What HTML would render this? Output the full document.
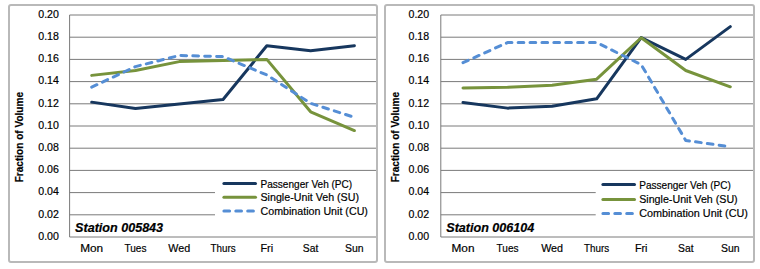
<!DOCTYPE html>
<html><head><meta charset="utf-8"><style>
html,body{margin:0;padding:0;background:#fff;width:760px;height:269px;overflow:hidden}
svg{display:block}
text{font-family:"Liberation Sans",sans-serif;fill:#000000;stroke:#000000;stroke-width:0.18px}
text[font-weight=bold]{stroke-width:0.2px}
</style></head><body>
<svg width="760" height="269" viewBox="0 0 760 269">
<rect width="760" height="269" fill="#fff"/>
<line x1="69.60" y1="237.00" x2="376.10" y2="237.00" stroke="#7A7A7A" stroke-width="1"/>
<line x1="69.60" y1="214.80" x2="376.10" y2="214.80" stroke="#7A7A7A" stroke-width="1"/>
<line x1="69.60" y1="192.60" x2="376.10" y2="192.60" stroke="#7A7A7A" stroke-width="1"/>
<line x1="69.60" y1="170.40" x2="376.10" y2="170.40" stroke="#7A7A7A" stroke-width="1"/>
<line x1="69.60" y1="148.20" x2="376.10" y2="148.20" stroke="#7A7A7A" stroke-width="1"/>
<line x1="69.60" y1="126.00" x2="376.10" y2="126.00" stroke="#7A7A7A" stroke-width="1"/>
<line x1="69.60" y1="103.80" x2="376.10" y2="103.80" stroke="#7A7A7A" stroke-width="1"/>
<line x1="69.60" y1="81.60" x2="376.10" y2="81.60" stroke="#7A7A7A" stroke-width="1"/>
<line x1="69.60" y1="59.40" x2="376.10" y2="59.40" stroke="#7A7A7A" stroke-width="1"/>
<line x1="69.60" y1="37.20" x2="376.10" y2="37.20" stroke="#7A7A7A" stroke-width="1"/>
<line x1="69.60" y1="15.00" x2="376.10" y2="15.00" stroke="#7A7A7A" stroke-width="1"/>
<line x1="69.60" y1="15.00" x2="69.60" y2="237.00" stroke="#7A7A7A" stroke-width="1"/>
<rect x="215" y="174" width="161.60000000000002" height="48" fill="#fff"/>
<text x="58.90" y="239.70" text-anchor="end" font-size="10" textLength="20.6" lengthAdjust="spacingAndGlyphs">0.00</text>
<text x="58.90" y="217.50" text-anchor="end" font-size="10" textLength="20.6" lengthAdjust="spacingAndGlyphs">0.02</text>
<text x="58.90" y="195.30" text-anchor="end" font-size="10" textLength="20.6" lengthAdjust="spacingAndGlyphs">0.04</text>
<text x="58.90" y="173.10" text-anchor="end" font-size="10" textLength="20.6" lengthAdjust="spacingAndGlyphs">0.06</text>
<text x="58.90" y="150.90" text-anchor="end" font-size="10" textLength="20.6" lengthAdjust="spacingAndGlyphs">0.08</text>
<text x="58.90" y="128.70" text-anchor="end" font-size="10" textLength="20.6" lengthAdjust="spacingAndGlyphs">0.10</text>
<text x="58.90" y="106.50" text-anchor="end" font-size="10" textLength="20.6" lengthAdjust="spacingAndGlyphs">0.12</text>
<text x="58.90" y="84.30" text-anchor="end" font-size="10" textLength="20.6" lengthAdjust="spacingAndGlyphs">0.14</text>
<text x="58.90" y="62.10" text-anchor="end" font-size="10" textLength="20.6" lengthAdjust="spacingAndGlyphs">0.16</text>
<text x="58.90" y="39.90" text-anchor="end" font-size="10" textLength="20.6" lengthAdjust="spacingAndGlyphs">0.18</text>
<text x="58.90" y="17.70" text-anchor="end" font-size="10" textLength="20.6" lengthAdjust="spacingAndGlyphs">0.20</text>
<text x="91.70" y="251.8" text-anchor="middle" font-size="10.5" textLength="23.0" lengthAdjust="spacingAndGlyphs">Mon</text>
<text x="135.48" y="251.8" text-anchor="middle" font-size="10.5" textLength="22.0" lengthAdjust="spacingAndGlyphs">Tues</text>
<text x="179.26" y="251.8" text-anchor="middle" font-size="10.5" textLength="21.9" lengthAdjust="spacingAndGlyphs">Wed</text>
<text x="223.04" y="251.8" text-anchor="middle" font-size="10.5" textLength="25.1" lengthAdjust="spacingAndGlyphs">Thurs</text>
<text x="266.82" y="251.8" text-anchor="middle" font-size="10.5" textLength="12.6" lengthAdjust="spacingAndGlyphs">Fri</text>
<text x="310.60" y="251.8" text-anchor="middle" font-size="10.5" textLength="15.5" lengthAdjust="spacingAndGlyphs">Sat</text>
<text x="354.38" y="251.8" text-anchor="middle" font-size="10.5" textLength="18.6" lengthAdjust="spacingAndGlyphs">Sun</text>
<text transform="translate(23.20,182.30) rotate(-90)" x="0" y="0" font-size="10.8" font-weight="bold" textLength="90.3" lengthAdjust="spacingAndGlyphs">Fraction of Volume</text>
<text x="75.1" y="231.7" font-size="12.6" font-weight="bold" font-style="italic" textLength="88.0" lengthAdjust="spacingAndGlyphs">Station 005843</text>
<polyline points="91.70,102.14 135.48,108.57 179.26,104.02 223.04,99.47 266.82,45.75 310.60,50.74 354.38,45.75" fill="none" stroke="#17375E" stroke-width="3" stroke-linejoin="round" stroke-linecap="round"/>
<polyline points="91.70,75.38 135.48,70.50 179.26,61.62 223.04,60.51 266.82,59.40 310.60,111.79 354.38,130.55" fill="none" stroke="#77933C" stroke-width="3" stroke-linejoin="round" stroke-linecap="round"/>
<polyline points="91.70,87.15 135.48,66.62 179.26,55.51 223.04,56.62 266.82,74.94 310.60,103.36 354.38,117.34" fill="none" stroke="#558ED5" stroke-width="3" stroke-linejoin="round" stroke-linecap="round" stroke-dasharray="5.7,6.2"/>
<line x1="223.90" y1="183.40" x2="255.50" y2="183.40" stroke="#17375E" stroke-width="3" stroke-linecap="round"/>
<text x="260.50" y="188.30" font-size="10.6" textLength="91.7" lengthAdjust="spacingAndGlyphs">Passenger Veh (PC)</text>
<line x1="223.90" y1="197.20" x2="255.50" y2="197.20" stroke="#77933C" stroke-width="3" stroke-linecap="round"/>
<text x="260.50" y="201.30" font-size="10.6" textLength="98.5" lengthAdjust="spacingAndGlyphs">Single-Unit Veh (SU)</text>
<line x1="223.90" y1="210.90" x2="255.50" y2="210.90" stroke="#558ED5" stroke-width="3" stroke-linecap="round" stroke-dasharray="5.7,6.2"/>
<text x="260.50" y="214.50" font-size="10.6" textLength="107.4" lengthAdjust="spacingAndGlyphs">Combination Unit (CU)</text>
<rect x="9" y="5" width="368" height="257" rx="2" fill="none" stroke="#B9B9B9" stroke-width="2"/>
<line x1="440.80" y1="237.00" x2="753.00" y2="237.00" stroke="#7A7A7A" stroke-width="1"/>
<line x1="440.80" y1="214.80" x2="753.00" y2="214.80" stroke="#7A7A7A" stroke-width="1"/>
<line x1="440.80" y1="192.60" x2="753.00" y2="192.60" stroke="#7A7A7A" stroke-width="1"/>
<line x1="440.80" y1="170.40" x2="753.00" y2="170.40" stroke="#7A7A7A" stroke-width="1"/>
<line x1="440.80" y1="148.20" x2="753.00" y2="148.20" stroke="#7A7A7A" stroke-width="1"/>
<line x1="440.80" y1="126.00" x2="753.00" y2="126.00" stroke="#7A7A7A" stroke-width="1"/>
<line x1="440.80" y1="103.80" x2="753.00" y2="103.80" stroke="#7A7A7A" stroke-width="1"/>
<line x1="440.80" y1="81.60" x2="753.00" y2="81.60" stroke="#7A7A7A" stroke-width="1"/>
<line x1="440.80" y1="59.40" x2="753.00" y2="59.40" stroke="#7A7A7A" stroke-width="1"/>
<line x1="440.80" y1="37.20" x2="753.00" y2="37.20" stroke="#7A7A7A" stroke-width="1"/>
<line x1="440.80" y1="15.00" x2="753.00" y2="15.00" stroke="#7A7A7A" stroke-width="1"/>
<line x1="440.80" y1="15.00" x2="440.80" y2="237.00" stroke="#7A7A7A" stroke-width="1"/>
<rect x="595.7" y="174" width="157.29999999999995" height="50" fill="#fff"/>
<text x="429.10" y="239.70" text-anchor="end" font-size="10" textLength="20.6" lengthAdjust="spacingAndGlyphs">0.00</text>
<text x="429.10" y="217.50" text-anchor="end" font-size="10" textLength="20.6" lengthAdjust="spacingAndGlyphs">0.02</text>
<text x="429.10" y="195.30" text-anchor="end" font-size="10" textLength="20.6" lengthAdjust="spacingAndGlyphs">0.04</text>
<text x="429.10" y="173.10" text-anchor="end" font-size="10" textLength="20.6" lengthAdjust="spacingAndGlyphs">0.06</text>
<text x="429.10" y="150.90" text-anchor="end" font-size="10" textLength="20.6" lengthAdjust="spacingAndGlyphs">0.08</text>
<text x="429.10" y="128.70" text-anchor="end" font-size="10" textLength="20.6" lengthAdjust="spacingAndGlyphs">0.10</text>
<text x="429.10" y="106.50" text-anchor="end" font-size="10" textLength="20.6" lengthAdjust="spacingAndGlyphs">0.12</text>
<text x="429.10" y="84.30" text-anchor="end" font-size="10" textLength="20.6" lengthAdjust="spacingAndGlyphs">0.14</text>
<text x="429.10" y="62.10" text-anchor="end" font-size="10" textLength="20.6" lengthAdjust="spacingAndGlyphs">0.16</text>
<text x="429.10" y="39.90" text-anchor="end" font-size="10" textLength="20.6" lengthAdjust="spacingAndGlyphs">0.18</text>
<text x="429.10" y="17.70" text-anchor="end" font-size="10" textLength="20.6" lengthAdjust="spacingAndGlyphs">0.20</text>
<text x="463.00" y="251.8" text-anchor="middle" font-size="10.5" textLength="23.0" lengthAdjust="spacingAndGlyphs">Mon</text>
<text x="507.55" y="251.8" text-anchor="middle" font-size="10.5" textLength="22.0" lengthAdjust="spacingAndGlyphs">Tues</text>
<text x="552.10" y="251.8" text-anchor="middle" font-size="10.5" textLength="21.9" lengthAdjust="spacingAndGlyphs">Wed</text>
<text x="596.65" y="251.8" text-anchor="middle" font-size="10.5" textLength="25.1" lengthAdjust="spacingAndGlyphs">Thurs</text>
<text x="641.20" y="251.8" text-anchor="middle" font-size="10.5" textLength="12.6" lengthAdjust="spacingAndGlyphs">Fri</text>
<text x="685.75" y="251.8" text-anchor="middle" font-size="10.5" textLength="15.5" lengthAdjust="spacingAndGlyphs">Sat</text>
<text x="730.30" y="251.8" text-anchor="middle" font-size="10.5" textLength="18.6" lengthAdjust="spacingAndGlyphs">Sun</text>
<text transform="translate(399.20,182.30) rotate(-90)" x="0" y="0" font-size="10.8" font-weight="bold" textLength="90.3" lengthAdjust="spacingAndGlyphs">Fraction of Volume</text>
<text x="446.3" y="231.6" font-size="12.6" font-weight="bold" font-style="italic" textLength="88.0" lengthAdjust="spacingAndGlyphs">Station 006104</text>
<polyline points="463.00,102.47 507.55,108.13 552.10,106.35 596.65,98.81 641.20,37.53 685.75,59.40 730.30,26.66" fill="none" stroke="#17375E" stroke-width="3" stroke-linejoin="round" stroke-linecap="round"/>
<polyline points="463.00,88.04 507.55,87.26 552.10,85.15 596.65,79.16 641.20,37.76 685.75,70.50 730.30,86.82" fill="none" stroke="#77933C" stroke-width="3" stroke-linejoin="round" stroke-linecap="round"/>
<polyline points="463.00,62.73 507.55,42.53 552.10,42.53 596.65,42.53 641.20,64.62 685.75,140.43 730.30,146.76" fill="none" stroke="#558ED5" stroke-width="3" stroke-linejoin="round" stroke-linecap="round" stroke-dasharray="5.7,6.2"/>
<line x1="602.90" y1="184.50" x2="634.50" y2="184.50" stroke="#17375E" stroke-width="3" stroke-linecap="round"/>
<text x="639.20" y="188.80" font-size="10.6" textLength="91.7" lengthAdjust="spacingAndGlyphs">Passenger Veh (PC)</text>
<line x1="602.90" y1="199.60" x2="634.50" y2="199.60" stroke="#77933C" stroke-width="3" stroke-linecap="round"/>
<text x="639.20" y="203.00" font-size="10.6" textLength="98.5" lengthAdjust="spacingAndGlyphs">Single-Unit Veh (SU)</text>
<line x1="602.90" y1="213.40" x2="634.50" y2="213.40" stroke="#558ED5" stroke-width="3" stroke-linecap="round" stroke-dasharray="5.7,6.2"/>
<text x="639.20" y="216.60" font-size="10.6" textLength="108.7" lengthAdjust="spacingAndGlyphs">Combination Unit (CU)</text>
<rect x="385" y="5" width="369" height="257" rx="2" fill="none" stroke="#B9B9B9" stroke-width="2"/>
</svg>
</body></html>
